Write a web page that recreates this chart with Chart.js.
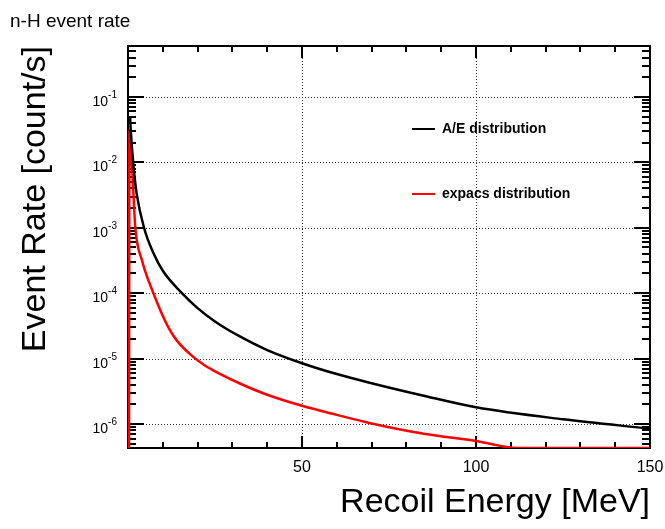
<!DOCTYPE html>
<html>
<head>
<meta charset="utf-8">
<title>n-H event rate</title>
<script src="https://cdn.jsdelivr.net/npm/chart.js@4.4.1/dist/chart.umd.min.js"></script>
<style>
  html, body { margin: 0; padding: 0; background: #fff; }
</style>
</head>
<body>
<canvas id="canvas" width="665" height="529"></canvas>
<script>
	// A/E distribution
	var energyAE = [0.6, 0.8, 1.6, 2.5, 4.6, 7.3, 10, 15.5, 20, 25, 32, 40, 50, 60, 70, 85, 100, 125, 150];
	var rateAE   = [5e-2, 3e-2, 8.5e-3, 3.3e-3, 1e-3, 4.1e-4, 2.2e-4, 1e-4, 5.9e-5, 3.7e-5, 2.2e-5, 1.35e-5, 8.5e-6, 5.8e-6, 4.2e-6, 2.7e-6, 1.8e-6, 1.18e-6, 8.5e-7];
	// expacs distribution
	var energyExp = [0.3, 0.4, 1.1, 1.6, 2.1, 4, 7.3, 11.6, 14, 18, 22, 26, 32, 40, 50, 60, 70, 85, 100, 112, 150];
	var rateExp   = [4.3e-7, 3.1e-2, 1e-2, 3e-3, 1e-3, 3.2e-4, 1e-4, 3e-5, 1.9e-5, 1.15e-5, 7.9e-6, 6e-6, 4.2e-6, 2.8e-6, 1.9e-6, 1.38e-6, 1.02e-6, 7.1e-7, 5.5e-7, 4.3e-7, 4.3e-7];

	var xLabels = [50, 100, 150];
	var yDecades = [-6, -5, -4, -3, -2, -1];
	var xMin = 0, xMax = 150;
	var yMin = 4.3e-7, yMax = 0.6;

	var FONT = '"Liberation Sans", Arial, Helvetica, sans-serif';

	function points(xs, ys) {
		var out = [];
		for (var i = 0; i < xs.length; i++) out.push({x: xs[i], y: ys[i]});
		return out;
	}

	// frame, ticks, grid and text in the ROOT style
	var rootFrame = {
		id: 'rootFrame',
		beforeDatasetsDraw: function (chart) {
			var ctx = chart.ctx, a = chart.chartArea;
			var xs = chart.scales.x, ys = chart.scales.y;
			ctx.save();

			// dotted grid
			ctx.strokeStyle = '#333';
			ctx.lineWidth = 1;
			ctx.setLineDash([1, 2]);
			ctx.beginPath();
			yDecades.forEach(function (p) {
				var y = Math.round(ys.getPixelForValue(Math.pow(10, p))) + 0.5;
				ctx.moveTo(a.left, y);
				ctx.lineTo(a.right, y);
			});
			xLabels.forEach(function (v) {
				if (v >= xMax) return;
				var x = Math.round(xs.getPixelForValue(v)) + 0.5;
				ctx.moveTo(x, a.top);
				ctx.lineTo(x, a.bottom);
			});
			ctx.stroke();
			ctx.setLineDash([]);

			// frame
			ctx.strokeStyle = '#000';
			ctx.lineWidth = 2;
			ctx.strokeRect(a.left, a.top, a.right - a.left, a.bottom - a.top);

			// x ticks, bottom and top
			ctx.beginPath();
			for (var v = 10; v < xMax; v += 10) {
				var x = Math.round(xs.getPixelForValue(v));
				var len = v % 50 === 0 ? 12 : 6;
				ctx.moveTo(x, a.bottom); ctx.lineTo(x, a.bottom - len);
				ctx.moveTo(x, a.top); ctx.lineTo(x, a.top + len);
			}
			// y ticks, left and right
			for (var p = -7; p <= 0; p++) {
				for (var m = 1; m <= 9; m++) {
					var val = m * Math.pow(10, p);
					if (val <= yMin || val >= yMax) continue;
					var y = Math.round(ys.getPixelForValue(val));
					var l = m === 1 ? 16 : 8;
					ctx.moveTo(a.left, y); ctx.lineTo(a.left + l, y);
					ctx.moveTo(a.right, y); ctx.lineTo(a.right - l, y);
				}
			}
			ctx.stroke();

			// tick labels
			ctx.fillStyle = '#000';
			ctx.textAlign = 'center';
			ctx.textBaseline = 'alphabetic';
			ctx.font = '16px ' + FONT;
			xLabels.forEach(function (v) {
				ctx.fillText(String(v), xs.getPixelForValue(v), a.bottom + 24);
			});
			var labelRight = a.left - 11;
			yDecades.forEach(function (p) {
				var y = ys.getPixelForValue(Math.pow(10, p));
				ctx.font = '10px ' + FONT;
				var we = ctx.measureText(String(p)).width;
				ctx.textAlign = 'left';
				ctx.fillText(String(p), labelRight - we, y + 1);
				ctx.font = '14px ' + FONT;
				ctx.textAlign = 'right';
				ctx.fillText('10', labelRight - we, y + 9);
			});

			// axis titles
			ctx.font = '34px ' + FONT;
			ctx.textAlign = 'right';
			ctx.fillText('Recoil Energy [MeV]', a.right, 512);
			ctx.save();
			ctx.translate(45, a.top);
			ctx.rotate(-Math.PI / 2);
			ctx.textAlign = 'right';
			ctx.fillText('Event Rate [count/s]', 0, 0);
			ctx.restore();

			// title
			ctx.font = '19px ' + FONT;
			ctx.textAlign = 'left';
			ctx.fillText('n-H event rate', 10, 27);

			// legend
			var legendY = [129, 194];
			chart.data.datasets.forEach(function (ds, i) {
				ctx.strokeStyle = ds.borderColor;
				ctx.lineWidth = 2;
				ctx.beginPath();
				ctx.moveTo(412, legendY[i]);
				ctx.lineTo(435, legendY[i]);
				ctx.stroke();
				ctx.font = 'bold 14px ' + FONT;
				ctx.textAlign = 'left';
				ctx.textBaseline = 'middle';
				ctx.fillStyle = '#000';
				ctx.fillText(ds.label, 442, legendY[i]);
			});

			ctx.restore();
		}
	};

	var chart = new Chart(document.getElementById('canvas'), {
		type: 'line',
		data: {
			datasets: [{
				label: 'A/E distribution',
				data: points(energyAE, rateAE),
				borderColor: '#000000',
				borderWidth: 2.5,
				pointRadius: 0,
				fill: false,
				cubicInterpolationMode: 'monotone'
			}, {
				label: 'expacs distribution',
				data: points(energyExp, rateExp),
				borderColor: '#ff0000',
				borderWidth: 2.5,
				pointRadius: 0,
				fill: false,
				cubicInterpolationMode: 'monotone'
			}]
		},
		options: {
			responsive: false,
			animation: false,
			layout: { padding: { left: 128, top: 46, right: 15, bottom: 81 } },
			plugins: { legend: { display: false }, tooltip: { enabled: false } },
			scales: {
				x: { type: 'linear', min: xMin, max: xMax, display: false },
				y: { type: 'logarithmic', min: yMin, max: yMax, display: false }
			}
		},
		plugins: [rootFrame]
	});
</script>
</body>
</html>
